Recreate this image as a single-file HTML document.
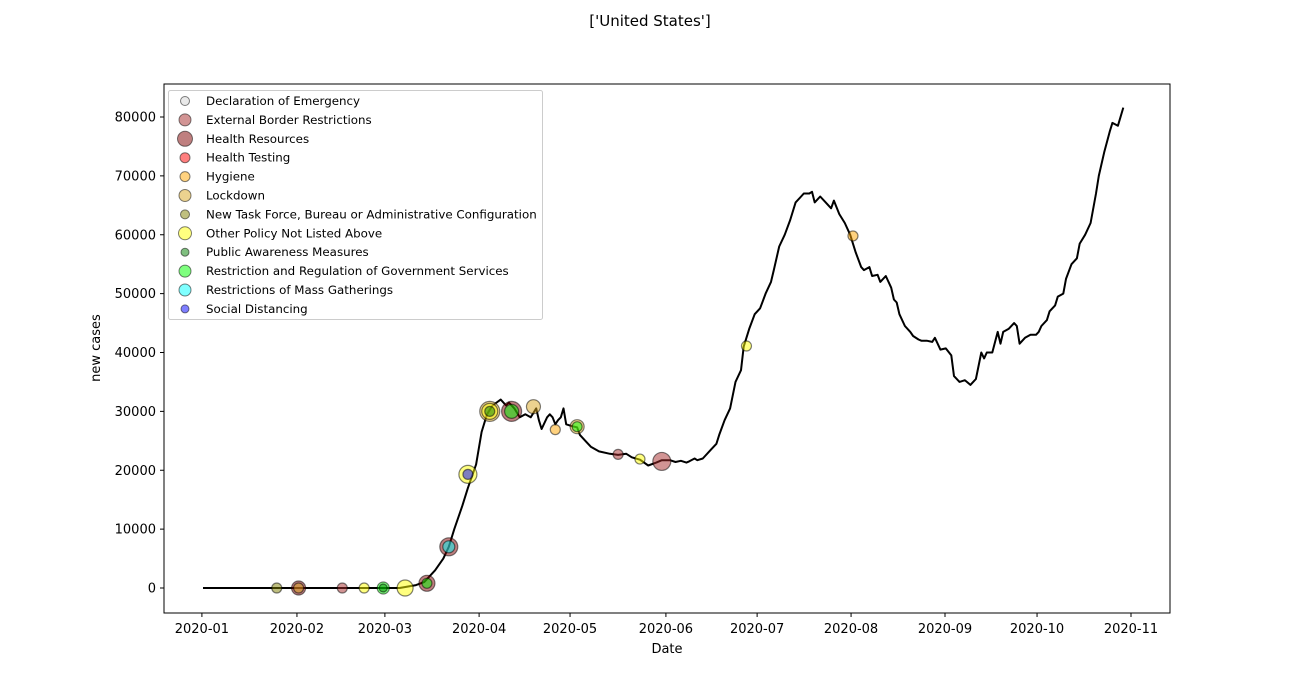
<!DOCTYPE html>
<html><head><meta charset="utf-8">
<style>
body{margin:0;background:#fff;font-family:"Liberation Sans","DejaVu Sans",sans-serif;}
svg{display:block}
text{font-family:"DejaVu Sans","Liberation Sans",sans-serif;}
</style></head>
<body>
<svg id="chart" width="1300" height="700"></svg>
<script>
const lineDays=[0,72,78,81,85,88,90,92,95,97,100,102,104,106,109,111,112,114,116,118,120,122,123,124,126,127,128,129,130,131,132,133,135,137,138,140,142,145,149,152,155,157,160,163,166,168,171,173,175,177,178,180,181,183,186,188,189,191,193,195,197,198,200,202,204,206,208,209,211,213,215,217,219,220,222,223,224,226,228,230,231,233,235,237,239,241,242,244,245,247,248,250,252,253,254,255,257,259,260,262,263,265,267,268,270,272,274,275,277,279,281,283,285,286,287,289,291,292,293,295,297,298,299,301,303,305,306,307,309,310,312,313,315,316,318,320,321,323,325,327,328,330,332,333,335,337];
const lineValues=[0,0,500,1000,3000,5000,7000,10000,14000,17000,21000,26500,29500,31000,32000,31000,31500,30500,29000,29500,29000,30500,28500,27000,29000,29500,29000,27800,28500,29000,30500,27800,27500,27300,26000,25000,24000,23200,22800,22600,22800,22200,21800,20800,21300,21700,21700,21400,21600,21300,21500,22000,21700,22000,23500,24500,26000,28500,30500,35000,37000,41000,44000,46500,47500,50000,52000,54000,58000,60000,62500,65500,66500,67000,67000,67300,65500,66500,65500,64500,65800,63500,62000,60000,57000,54500,54000,54500,53000,53200,52000,53000,51000,49000,48500,46500,44500,43500,42800,42200,42000,42000,41800,42500,40500,40700,39500,36000,35000,35300,34500,35500,40000,39000,40000,40000,43500,41500,43500,44000,45000,44500,41500,42500,43000,43000,43500,44500,45500,47000,48000,49500,50000,52500,55000,56000,58500,60000,62000,67000,70000,74000,77500,79000,78500,81600];
const markerDays=[27,35,35,51,59,66,66,74,82,82,90,90,97,97,105,105,105,113,113,121,129,137,137,152,160,168,199,238];
const markerValues=[0,0,0,0,0,0,0,0,800,800,7000,7000,19300,19300,30000,30000,30000,30000,30000,30800,26900,27400,27400,22700,21900,21500,41100,59800];
const markerRadius=[5,7,5,5,5,6,4,8,8,5,9,6,9,5,10,8,5,10,7,7,5,7,5,5,5,9,5,5];
const markerCat=[6,2,5,1,7,9,8,7,2,9,2,10,7,11,5,7,8,2,9,5,4,5,9,1,7,1,7,4];
const catNames=["Declaration of Emergency","External Border Restrictions","Health Resources","Health Testing","Hygiene","Lockdown","New Task Force, Bureau or Administrative Configuration","Other Policy Not Listed Above","Public Awareness Measures","Restriction and Regulation of Government Services","Restrictions of Mass Gatherings","Social Distancing"];
const catColors=["#d3d3d3","#a52a2a","#800000","#ff0000","#ffa500","#daa520","#808000","#ffff00","#008000","#00ff00","#00ffff","#0000ff"];
const legendR=[4.5,6,7.5,5,5,6,4.5,6.5,4,6,6,4];
const yTicks=[0,10000,20000,30000,40000,50000,60000,70000,80000];
const xTickLabels=["2020-01","2020-02","2020-03","2020-04","2020-05","2020-06","2020-07","2020-08","2020-09","2020-10","2020-11"];
const xTickDays=[-0.4,34.4,66.6,101.1,134.4,169.5,202.9,237.3,271.7,305.4,339.8];

const svg=document.getElementById('chart');
const NS='http://www.w3.org/2000/svg';
const L=164,R=1170,T=84,B=613;
const xs=d=>203+d*2.731;
const ys=v=>588-v*(588-117)/80000;
function mk(tag,attrs,parent){const e=document.createElementNS(NS,tag);for(const k in attrs)e.setAttribute(k,attrs[k]);(parent||svg).appendChild(e);return e;}

const title=mk('text',{x:650,y:26,'text-anchor':'middle','font-size':15});
title.textContent="['United States']";



const frame=mk('rect',{x:L,y:T,width:R-L,height:B-T,fill:'none',stroke:'#000','stroke-width':1});



yTicks.forEach(v=>{
  const y=ys(v);
  mk('line',{x1:L-4,x2:L,y1:y,y2:y,stroke:'#000'});
  const t=mk('text',{x:L-8,y:y+4.5,'text-anchor':'end','font-size':13});
  t.textContent=String(v);
  
  
});
xTickDays.forEach((d,i)=>{
  const x=xs(d);
  mk('line',{x1:x,x2:x,y1:B,y2:B+4,stroke:'#000'});
  const t=mk('text',{x:x,y:B+20,'text-anchor':'middle','font-size':13});
  t.textContent=xTickLabels[i];
  
  
});
const xt=mk('text',{x:667,y:653,'text-anchor':'middle','font-size':13});
xt.textContent='Date';


const yt=mk('text',{x:100,y:348,'text-anchor':'middle','font-size':13,transform:'rotate(-90 100 348)'});
yt.textContent='new cases';



const pts=lineDays.map((d,i)=>xs(d).toFixed(1)+','+ys(lineValues[i]).toFixed(1)).join(' ');
const pl=mk('polyline',{points:pts,fill:'none',stroke:'#000','stroke-width':2,'stroke-linejoin':'round'});



markerDays.forEach((d,i)=>{
  const c=mk('circle',{cx:xs(d),cy:ys(markerValues[i]),r:markerRadius[i],fill:catColors[markerCat[i]],'fill-opacity':0.5,stroke:'#000','stroke-opacity':0.5,'stroke-width':1.2});
  
  
});

const lg=mk('g',{});


mk('rect',{x:168.5,y:90.5,width:374,height:229,rx:2,fill:'#fff','fill-opacity':0.8,stroke:'#ccc'},lg);
catNames.forEach((n,i)=>{
  const y=101+i*18.9;
  const c=mk('circle',{cx:185,cy:y,r:legendR[i],fill:catColors[i],'fill-opacity':0.5,stroke:'#000','stroke-opacity':0.5},lg);
  
  
  const t=mk('text',{x:206,y:y+4,'font-size':11.85},lg);
  t.textContent=n;
  
  
});
</script>
</body></html>
